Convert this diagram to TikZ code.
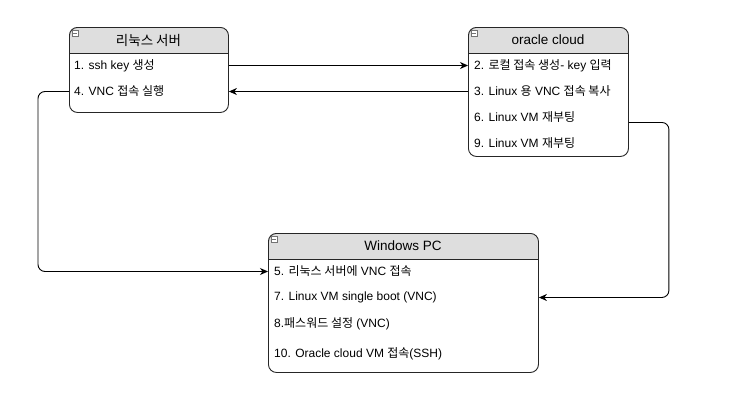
\documentclass[tikz,border=0pt]{standalone}
\usepackage{fontspec}
\setmainfont{Liberation Sans}
\newfontfamily\kr{Noto Sans CJK KR}
\usetikzlibrary{arrows.meta}
\begin{document}
\begin{tikzpicture}[x=1pt,y=-1pt,
  font=\fontsize{12}{14}\selectfont,
  boxframe/.style={draw=black!85, line width=0.9pt, rounded corners=8pt, inner sep=0pt, anchor=north west},
  hdrfill/.style={fill=black!13},
  rowtxt/.style={anchor=west, inner sep=0pt},
  hdrtxt/.style={inner sep=0pt, font=\fontsize{13.5}{15}\selectfont},
  icon/.style={draw=black!55, line width=0.5pt, fill=white},
  conn/.style={draw=black, line width=0.9pt, rounded corners=7pt},
  tip/.style={-{Stealth[length=8pt,width=7pt,inset=2.5pt]}}]
\useasboundingbox[fill=white] (0,0) rectangle (729,410);

% ---- box 1: 리눅스 서버
\begin{scope}
  \clip (60,20) rectangle (240,53);
  \fill[hdrfill, rounded corners=8pt] (69,27) rectangle (228,112);
\end{scope}
\node[boxframe, minimum width=159pt, minimum height=85pt] (srv) at (69,27) {};
\draw[black!85, line width=0.9pt] (srv.west |- 0,53) -- (srv.east |- 0,53);
\draw[icon] (72,30) rectangle (78,36);
\draw[black!55, line width=0.5pt] (73.3,33) -- (76.7,33);
\node[hdrtxt] (srvT) at (148.5,40) {\kr 리눅스 서버};
\node[rowtxt] (s1) at (74,65.5) {1. ssh key {\kr 생성}};
\node[rowtxt] (s4) at (74,91.5) {4. VNC {\kr 접속 실행}};

% ---- box 2: oracle cloud
\begin{scope}
  \clip (460,20) rectangle (640,53);
  \fill[hdrfill, rounded corners=8pt] (468,27) rectangle (628,156);
\end{scope}
\node[boxframe, minimum width=160pt, minimum height=129pt] (oc) at (468,27) {};
\draw[black!85, line width=0.9pt] (oc.west |- 0,53) -- (oc.east |- 0,53);
\draw[icon] (471,30) rectangle (477,36);
\draw[black!55, line width=0.5pt] (472.3,33) -- (475.7,33);
\node[hdrtxt] (ocT) at (548,40) {oracle cloud};
\node[rowtxt] (o2) at (474,65.5) {2. {\kr 로컬 접속 생성}- key {\kr 입력}};
\node[rowtxt] (o3) at (474,91.5) {3. Linux {\kr 용} VNC {\kr 접속 복사}};
\node[rowtxt] (o6) at (474,117.5) {6. Linux VM {\kr 재부팅}};
\node[rowtxt] (o9) at (474,143.5) {9. Linux VM {\kr 재부팅}};

% ---- box 3: Windows PC
\begin{scope}
  \clip (260,226) rectangle (548,259);
  \fill[hdrfill, rounded corners=8pt] (268,233) rectangle (538,372);
\end{scope}
\node[boxframe, minimum width=270pt, minimum height=139pt] (win) at (268,233) {};
\draw[black!85, line width=0.9pt] (win.west |- 0,259) -- (win.east |- 0,259);
\draw[icon] (271,236) rectangle (277,242);
\draw[black!55, line width=0.5pt] (272.3,239) -- (275.7,239);
\node[hdrtxt] (winT) at (403,246) {Windows PC};
\node[rowtxt] (w5) at (274,271.5) {5. {\kr 리눅스 서버에} VNC {\kr 접속}};
\node[rowtxt] (w7) at (274,297.5) {7. Linux VM single boot (VNC)};
\node[rowtxt] (w8) at (274,323.5) {8.{\kr 패스워드 설정} (VNC)};
\node[rowtxt] (w10) at (274,353.5) {10. Oracle cloud VM {\kr 접속}(SSH)};

% ---- connectors
\draw[conn, tip] (srv.east |- s1) -- (oc.west |- s1);
\draw[conn, tip] (oc.west |- o3) -- (srv.east |- o3);
\draw[conn, tip] (srv.west |- s4) -- ++(-31,0) |- (win.west |- w5);
\coordinate (ocout) at ([yshift=-30.5pt]oc.east);
\draw[conn, tip] (ocout) -- ++(40,0) |- (win.east |- w7);
\end{tikzpicture}
\end{document}
